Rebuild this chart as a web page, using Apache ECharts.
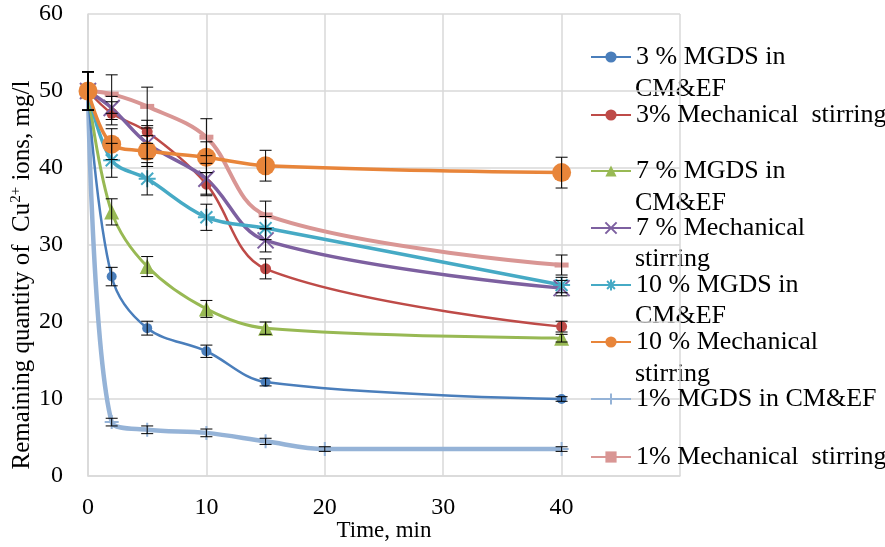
<!DOCTYPE html>
<html><head><meta charset="utf-8">
<script src="https://cdn.jsdelivr.net/npm/echarts@6/dist/echarts.min.js"></script>
<style>html,body{margin:0;padding:0;background:#fff}#c{width:885px;height:547px}</style>
</head><body><div id="c"></div>
<script>
const times = [0, 2, 5, 10, 15, 40];
const times1MGDS = [0, 2, 5, 10, 15, 20, 40];
const xTicks = [0, 10, 20, 30, 40];

const names = ["3 % MGDS in CM&EF", "3% Mechanical  stirring", "7 % MGDS in CM&EF", "7 % Mechanical stirring",
  "10 % MGDS in CM&EF", "10 % Mechanical stirring", "1% MGDS in CM&EF", "1% Mechanical  stirring"];
const legendFirstLines = ["3 % MGDS in", "3% Mechanical  stirring", "7 % MGDS in", "7 % Mechanical",
  "10 % MGDS in", "10 % Mechanical", "1% MGDS in CM&EF", "1% Mechanical  stirring"];
const legendSecondLines = ["CM&EF", "", "CM&EF", "stirring", "CM&EF", "stirring", "", ""];

const v3MGDS = [50, 25.9, 19.2, 16.2, 12.2, 10.0];
const e3MGDS = [2.5, 1.2, 0.9, 0.8, 0.5, 0.3];
const v3Mech = [50, 47.1, 44.7, 37.9, 26.9, 19.4];
const e3Mech = [2.5, 1.5, 1.5, 1.5, 1.3, 0.7];
const v7MGDS = [50, 34.3, 27.2, 21.7, 19.2, 17.9];
const e7MGDS = [2.5, 1.7, 1.3, 1.1, 0.8, 0.5];
const v7Mech = [50, 47.8, 43.2, 38.6, 30.6, 24.4];
const e7Mech = [2.5, 1.5, 2.0, 2.0, 1.5, 1.0];
const v10MGDS = [50, 41.0, 38.6, 33.6, 32.2, 24.8];
const e10MGDS = [2.5, 2.2, 2.1, 1.7, 1.5, 1.0];
const v10Mech = [50, 43.1, 42.2, 41.4, 40.3, 39.4];
const e10Mech = [2.5, 2.0, 2.0, 2.0, 2.0, 2.0];
const v1MGDS = [50, 7.0, 6.0, 5.6, 4.5, 3.5, 3.5];
const e1MGDS = [2.5, 0.5, 0.5, 0.5, 0.4, 0.3, 0.3];
const v1Mech = [50, 49.6, 48.0, 44.0, 33.9, 27.4];
const e1Mech = [2.5, 2.5, 2.5, 2.4, 1.8, 1.3];

const colors = ["#4A7EBB", "#BE4B48", "#98B954", "#7D60A0", "#46AAC5", "#E8853A", "#95B3D7", "#D99694"];
const FONT = "Liberation Serif";

const seriesDefs = [
  {x: times, v: v3MGDS, e: e3MGDS, symbol: "circle", size: 10, lw: 2.5},
  {x: times, v: v3Mech, e: e3Mech, symbol: "circle", size: 11, lw: 2.5},
  {x: times, v: v7MGDS, e: e7MGDS, symbol: "triangle", size: 15, lw: 3},
  {x: times, v: v7Mech, e: e7Mech, symbol: "path://M0,0L10,10M10,0L0,10", size: 16, lw: 3.5, stroke: true},
  {x: times, v: v10MGDS, e: e10MGDS, symbol: "path://M5,0L5,10M0,5L10,5M1.5,1.5L8.5,8.5M8.5,1.5L1.5,8.5", size: 17, lw: 3.5, stroke: true},
  {x: times, v: v10Mech, e: e10Mech, symbol: "circle", size: 19, lw: 3.5},
  {x: times1MGDS, v: v1MGDS, e: e1MGDS, symbol: "path://M5,0L5,10M0,5L10,5", size: 14, lw: 4.5, stroke: true},
  {x: times, v: v1Mech, e: e1Mech, symbol: "rect", size: [14, 5], lw: 4}
];

const series = [];
const zOrder = [3, 3, 3, 3, 3, 4, 2, 2];
seriesDefs.forEach((d, i) => {
  series.push({
    name: names[i], type: "line", smooth: 0.35, z: zOrder[i],
    data: d.x.map((t, k) => [t, d.v[k]]),
    symbol: d.symbol, symbolSize: d.size, showAllSymbol: true,
    lineStyle: {color: colors[i], width: d.lw},
    itemStyle: {color: colors[i], borderColor: colors[i], borderWidth: d.stroke ? 2 : 0},
    emphasis: {disabled: true}
  });
});
seriesDefs.forEach((d, i) => {
  series.push({
    type: "custom", z: 5, silent: true,
    data: d.x.map((t, k) => [t, d.v[k], d.e[k]]),
    renderItem: function (params, api) {
      const x = api.value(0), y = api.value(1), e = api.value(2);
      const top = api.coord([x, y + e]);
      const bot = api.coord([x, y - e]);
      const w = 6;
      const st = {stroke: "#000", lineWidth: 1};
      return {type: "group", children: [
        {type: "line", shape: {x1: top[0], y1: top[1], x2: bot[0], y2: bot[1]}, style: st},
        {type: "line", shape: {x1: top[0] - w, y1: top[1], x2: top[0] + w, y2: top[1]}, style: st},
        {type: "line", shape: {x1: bot[0] - w, y1: bot[1], x2: bot[0] + w, y2: bot[1]}, style: st}
      ]};
    }
  });
});

const legendCenters = [57, 115, 171, 228, 285, 342, 399, 457];
const legends = names.map((n, i) => ({
  left: 590, top: legendCenters[i] - 13, padding: 0, itemGap: 0,
  itemWidth: 40, itemHeight: 14, selectedMode: false,
  data: [n],
  formatter: () => legendFirstLines[i],
  textStyle: {fontFamily: FONT, fontSize: 26, color: "#000"}
}));
const secondLineY = [88, 0, 202, 258, 315, 373, 0, 0];
const graphics = [];
legendSecondLines.forEach((t, i) => {
  if (t) graphics.push({type: "text", left: 635, top: secondLineY[i] - 12,
    style: {text: t, font: "26px '" + FONT + "'", fill: "#000"}});
});

const chart = echarts.init(document.getElementById("c"), null, {renderer: "canvas"});
chart.setOption({
  animation: false,
  color: colors,
  grid: {left: 88, top: 14, right: 205, bottom: 71, containLabel: false, outerBoundsMode: "none"},
  legend: legends,
  graphic: graphics,
  xAxis: {
    type: "value", min: 0, max: 50, interval: 10,
    name: "Time, min", nameLocation: "middle", nameGap: 43, nameMoveOverlap: false,
    nameTextStyle: {fontFamily: FONT, fontSize: 23, color: "#000"},
    axisLine: {show: true, lineStyle: {color: "#d9d9d9", width: 1.5}},
    axisTick: {show: false},
    axisLabel: {fontFamily: FONT, fontSize: 24, color: "#000", margin: 20,
      formatter: v => (xTicks.indexOf(v) >= 0 ? String(v) : "")},
    splitLine: {show: true, lineStyle: {color: "#d9d9d9", width: 1.5}}
  },
  yAxis: {
    type: "value", min: 0, max: 60, interval: 10,
    name: "{a|Remaining quantity of  Cu}{s|2+}{a| ions, mg/l}",
    nameLocation: "middle", nameGap: 52, nameRotate: 90, nameMoveOverlap: false,
    nameTextStyle: {padding: [0, 60, 0, 0], rich: {
      a: {fontFamily: FONT, fontSize: 25, color: "#000"},
      s: {fontFamily: FONT, fontSize: 15, color: "#000", padding: [0, 0, 12, 0]}
    }},
    axisLine: {show: true, lineStyle: {color: "#d9d9d9", width: 1.5}},
    axisTick: {show: false},
    axisLabel: {fontFamily: FONT, fontSize: 24, color: "#000", margin: 25},
    splitLine: {show: true, lineStyle: {color: "#d9d9d9", width: 1.5}}
  },
  series: series
});
</script>
</body></html>
